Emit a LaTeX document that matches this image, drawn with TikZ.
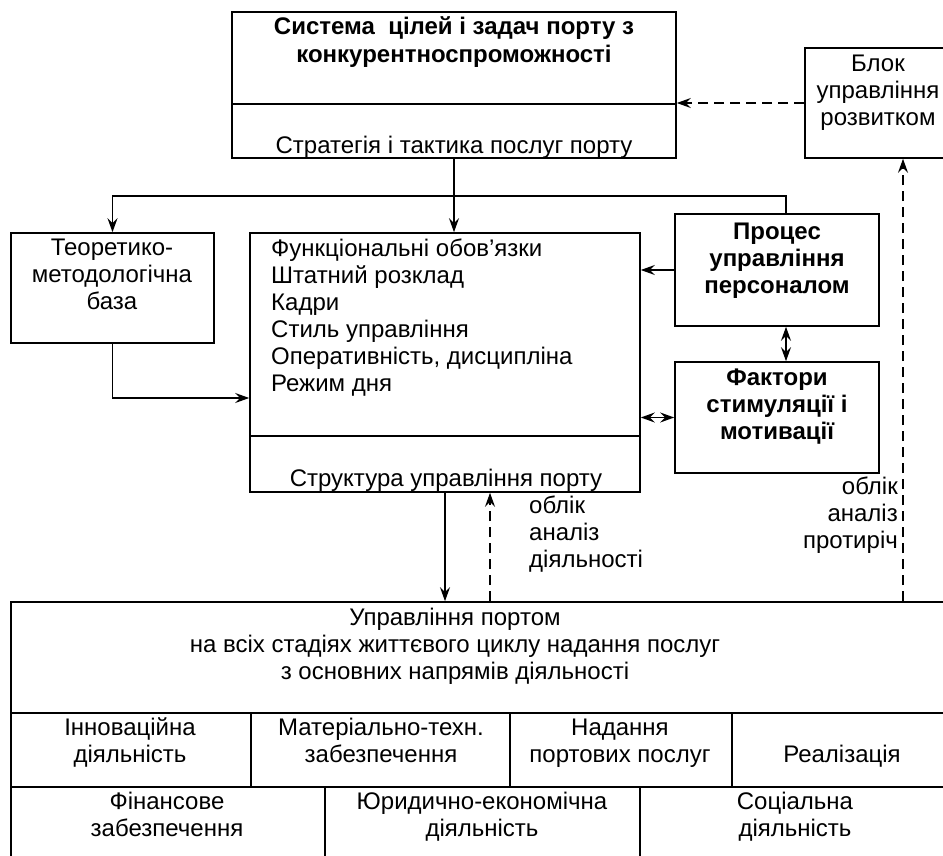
\documentclass[tikz,border=0pt]{standalone}
\usepackage{fontspec}
\setmainfont{Liberation Sans}
\usetikzlibrary{arrows.meta}
\newcommand\myfs{\fontsize{24}{27}\selectfont}
\begin{document}
\begin{tikzpicture}[x=1pt,y=-1pt,
  boxst/.style={draw, line width=1.6pt, inner sep=0pt},
  conn/.style={line width=1.5pt},
  tip/.tip={Stealth[length=14pt,width=10pt,inset=5pt]},
  arr/.style={conn, -tip},
  darr/.style={conn, tip-tip},
  dsh/.style={conn, dash pattern=on 10pt off 6pt},
  lbl/.style={anchor=base, inner sep=0pt, font=\myfs},
  lblb/.style={lbl, font=\myfs\bfseries},
  lbll/.style={lbl, anchor=base west},
  lblr/.style={lbl, anchor=base east}]
\useasboundingbox (0,0) rectangle (943,856);
% boxes
\node[boxst, minimum width=444pt, minimum height=146pt] (topbox) at (454,85) {};
\node[boxst, minimum width=160pt, minimum height=110pt] (blok) at (885,103) {};
\node[boxst, minimum width=203pt, minimum height=110pt] (teor) at (112.5,288) {};
\node[boxst, minimum width=390pt, minimum height=259pt] (mainb) at (445,362.5) {};
\node[boxst, minimum width=204pt, minimum height=112pt] (proc) at (777,270) {};
\node[boxst, minimum width=204pt, minimum height=111pt] (fakt) at (777,417.5) {};
\node[boxst, minimum width=960pt, minimum height=280pt] (bot) at (491,742) {};
% helper coordinates
\coordinate (d1) at (0,104);
\coordinate (d2) at (0,436);
\coordinate (j) at (454,196);
\coordinate (tb) at (0,398);
\coordinate (px) at (786,0);
\coordinate (dx) at (490,0);
\coordinate (rx) at (903,0);
\coordinate (r1) at (0,713);
\coordinate (r2) at (0,787);
\coordinate (c1) at (251,0);
\coordinate (c2) at (510,0);
\coordinate (c3) at (732,0);
\coordinate (c4) at (325,0);
\coordinate (c5) at (640,0);
% dividers
\draw[line width=1.6pt] (topbox.west |- d1) -- (topbox.east |- d1);
\draw[line width=1.6pt] (mainb.west |- d2) -- (mainb.east |- d2);
\draw[line width=1.6pt] (bot.west |- r1) -- (bot.east |- r1);
\draw[line width=1.6pt] (bot.west |- r2) -- (bot.east |- r2);
\draw[line width=1.6pt] (c1 |- r1) -- (c1 |- r2);
\draw[line width=1.6pt] (c2 |- r1) -- (c2 |- r2);
\draw[line width=1.6pt] (c3 |- r1) -- (c3 |- r2);
\draw[line width=1.6pt] (c4 |- r2) -- (c4 |- bot.south);
\draw[line width=1.6pt] (c5 |- r2) -- (c5 |- bot.south);
% connectors
\draw[arr] (topbox.south) -- (topbox.south |- mainb.north);
\draw[arr] (j) -| (teor.north);
\draw[conn] (j) -| (px |- proc.north);
\draw[arr] (teor.south) |- (mainb.west |- tb);
\draw[arr] (proc.west) -- (proc.west -| mainb.east);
\draw[darr] (px |- proc.south) -- (px |- fakt.north);
\draw[darr] (fakt.west -| mainb.east) -- (fakt.west);
\draw[arr] (mainb.south) -- (mainb.south |- bot.north);
\draw[dsh, -tip] (dx |- bot.north) -- (dx |- mainb.south);
\draw[dsh, -tip] (rx |- bot.north) -- (rx |- blok.south);
\draw[dsh, -tip] (blok.west) -- (blok.west -| topbox.east);
% texts
\node[lblb] (t1) at (454,35) {Система\ \ цілей і задач порту з};
\node[lblb] (t2) at (454,63) {конкурентноспроможності};
\node[lbl] (t3) at (454,154) {Стратегія і тактика послуг порту};
\node[lbl] (b1) at (878,72) {Блок};
\node[lbl] (b2) at (878,99) {управління};
\node[lbl] (b3) at (878,126) {розвитком};
\node[lbl] (e1) at (112,255) {Теоретико-};
\node[lbl] (e2) at (112,282) {методологічна};
\node[lbl] (e3) at (112,309) {база};
\node[lbll] (m1) at (271,256) {Функціональні обов’язки};
\node[lbll] (m2) at (271,283) {Штатний розклад};
\node[lbll] (m3) at (271,310) {Кадри};
\node[lbll] (m4) at (271,337) {Стиль управління};
\node[lbll] (m5) at (271,364) {Оперативність, дисципліна};
\node[lbll] (m6) at (271,391) {Режим дня};
\node[lbl] (m7) at (446,486) {Структура управління порту};
\node[lblb] (p1) at (777,239) {Процес};
\node[lblb] (p2) at (777,266) {управління};
\node[lblb] (p3) at (777,293) {персоналом};
\node[lblb] (f1) at (777,385) {Фактори};
\node[lblb] (f2) at (777,412) {стимуляції і};
\node[lblb] (f3) at (777,439) {мотивації};
\node[lbll] (s1) at (529,513) {облік};
\node[lbll] (s2) at (529,540) {аналіз};
\node[lbll] (s3) at (529,567) {діяльності};
\node[lblr] (q1) at (898,494) {облік};
\node[lblr] (q2) at (898,521) {аналіз};
\node[lblr] (q3) at (898,548) {протиріч};
\node[lbl] (u1) at (455,625) {Управління портом};
\node[lbl] (u2) at (455,652) {на всіх стадіях життєвого циклу надання послуг};
\node[lbl] (u3) at (455,679) {з основних напрямів діяльності};
\node[lbl] (a1) at (130,735) {Інноваційна};
\node[lbl] (a2) at (130,762) {діяльність};
\node[lbl] (a3) at (381,735) {Матеріально-техн.};
\node[lbl] (a4) at (381,762) {забезпечення};
\node[lbl] (a5) at (620,735) {Надання};
\node[lbl] (a6) at (620,762) {портових послуг};
\node[lbl] (a7) at (842,762) {Реалізація};
\node[lbl] (g1) at (167,809) {Фінансове};
\node[lbl] (g2) at (167,836) {забезпечення};
\node[lbl] (g3) at (482,809) {Юридично-економічна};
\node[lbl] (g4) at (482,836) {діяльність};
\node[lbl] (g5) at (795,809) {Соціальна};
\node[lbl] (g6) at (795,836) {діяльність};
\end{tikzpicture}
\end{document}
